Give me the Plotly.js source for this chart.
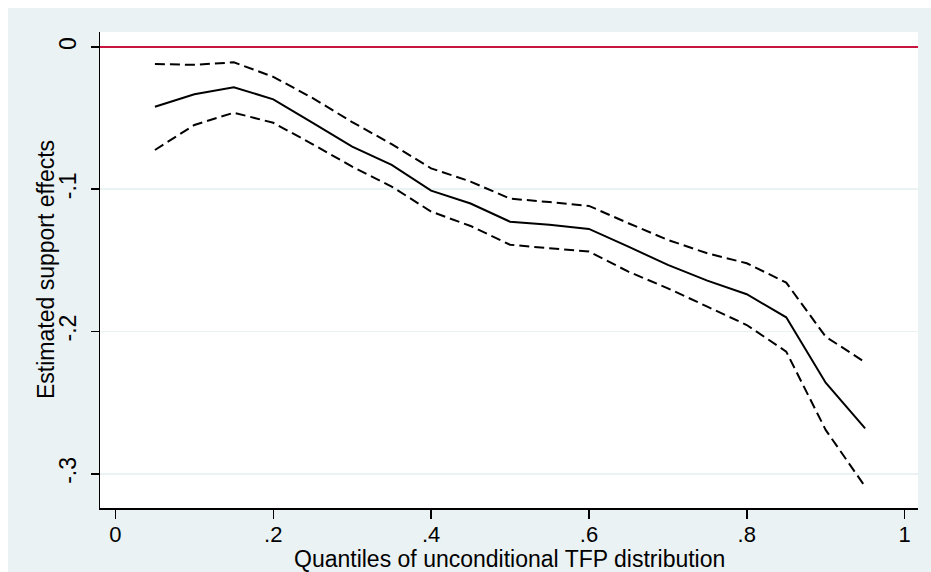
<!DOCTYPE html>
<html>
<head>
<meta charset="utf-8">
<script src="https://cdn.plot.ly/plotly-3.0.1.min.js"></script>
<style>
html, body { margin: 0; padding: 0; background: #ffffff; overflow: hidden; }
#chart { position: absolute; left: 8px; top: 8px; width: 923px; height: 564px; }
</style>
</head>
<body>
<div id="chart"></div>
<script>
const quantiles = [0.05, 0.10, 0.15, 0.20, 0.25, 0.30, 0.35, 0.40, 0.45, 0.50, 0.55, 0.60, 0.65, 0.70, 0.75, 0.80, 0.85, 0.90, 0.95];
const estimate = [-0.042, -0.0333, -0.0283, -0.0368, -0.0533, -0.070, -0.0829, -0.101, -0.110, -0.1228, -0.125, -0.1279, -0.1403, -0.1532, -0.1642, -0.1738, -0.190, -0.236, -0.268];
const upperCI = [-0.0119, -0.0126, -0.0108, -0.021, -0.036, -0.0528, -0.0683, -0.0853, -0.0946, -0.1066, -0.109, -0.1117, -0.1239, -0.1356, -0.145, -0.152, -0.1656, -0.2036, -0.2216];
const lowerCI = [-0.0724, -0.0548, -0.0462, -0.0533, -0.0684, -0.0841, -0.0981, -0.1157, -0.1258, -0.139, -0.1415, -0.1438, -0.1579, -0.1696, -0.1825, -0.1954, -0.2141, -0.2691, -0.309];
const xTickVals = [0, 0.2, 0.4, 0.6, 0.8, 1];
const xTickText = ["0", ".2", ".4", ".6", ".8", "1"];
const yTickVals = [0, -0.1, -0.2, -0.3];
const yTickText = ["0", "-.1", "-.2", "-.3"];
const xTitle = "Quantiles of unconditional TFP distribution";
const yTitle = "Estimated support effects";
const zeroLine = [0, 0];
const zeroLineX = [-0.0196, 1.017];

const fontFam = "Arial, 'Liberation Sans', Helvetica, sans-serif";
const fs = 23;
const dashStyle = "10px,5px";

const traces = [
  { x: zeroLineX, y: zeroLine, mode: "lines", line: { color: "#C8153F", width: 2 }, hoverinfo: "skip", showlegend: false },
  { x: quantiles, y: upperCI, mode: "lines", line: { color: "#000000", width: 2, dash: dashStyle }, showlegend: false },
  { x: quantiles, y: estimate, mode: "lines", line: { color: "#000000", width: 2 }, showlegend: false },
  { x: quantiles, y: lowerCI, mode: "lines", line: { color: "#000000", width: 2, dash: dashStyle }, showlegend: false }
];

const layout = {
  width: 923, height: 564,
  margin: { l: 92, r: 13, t: 24, b: 64 },
  paper_bgcolor: "#EAF2F3",
  plot_bgcolor: "#FFFFFF",
  font: { family: fontFam, size: fs, color: "#000000" },
  showlegend: false,
  xaxis: {
    range: [-0.0196, 1.017],
    tickvals: xTickVals, ticktext: xTickText,
    ticks: "outside", ticklen: 9, tickwidth: 1.5, tickcolor: "#000000",
    showline: true, linecolor: "#000000", linewidth: 1.5,
    showgrid: false, zeroline: false,
    ticklabelstandoff: -3,
    tickfont: { family: fontFam, size: 22, color: "#000000" }
  },
  yaxis: {
    range: [-0.324, 0.0105],
    tickvals: yTickVals, ticktext: yTickText,
    tickangle: -90,
    ticks: "outside", ticklen: 8, tickwidth: 1.5, tickcolor: "#000000",
    showline: true, linecolor: "#000000", linewidth: 1.5,
    showgrid: true, gridcolor: "#EAF2F3", gridwidth: 1.5,
    zeroline: false,
    ticklabelstandoff: 5,
    tickfont: { family: fontFam, size: fs, color: "#000000" }
  },
  annotations: [
    { text: xTitle, xref: "paper", yref: "paper", x: 0.5, y: 0, xanchor: "center", yanchor: "middle",
      yshift: -51, borderpad: 0, showarrow: false, font: { family: fontFam, size: fs, color: "#000000" } },
    { text: yTitle, xref: "paper", yref: "paper", x: 0, y: 0.5, xanchor: "center", yanchor: "middle",
      xshift: -54, textangle: -90, showarrow: false, font: { family: fontFam, size: fs, color: "#000000" } }
  ]
};

Plotly.newPlot("chart", traces, layout, { displayModeBar: false, staticPlot: true });
</script>
</body>
</html>
